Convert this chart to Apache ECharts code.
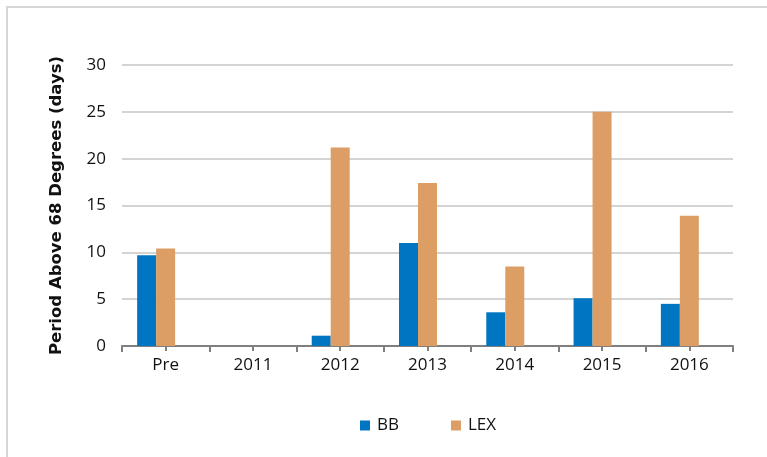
<!DOCTYPE html>
<html>
<head>
<meta charset="utf-8">
<script src="https://cdn.jsdelivr.net/npm/echarts@6/dist/echarts.min.js"></script>
<style>
html,body{margin:0;padding:0;background:#fff;}
#chart{width:767px;height:457px;}
</style>
</head>
<body>
<div id="chart"></div>
<script>
var categories = ['Pre', '2011', '2012', '2013', '2014', '2015', '2016'];
var bbValues = [9.7, null, 1.1, 11.0, 3.6, 5.1, 4.5];
var lexValues = [10.4, null, 21.2, 17.4, 8.5, 25.0, 13.9];
var emptyValues = [null, null, null, null, null, null, null];
var yTicks = [0, 5, 10, 15, 20, 25, 30];

var chart = echarts.init(document.getElementById('chart'), null, {renderer: 'canvas'});
var font = '"Open Sans", "DejaVu Sans", sans-serif';
chart.setOption({
  animation: false,
  backgroundColor: '#fff',
  graphic: [
    {type: 'line', shape: {x1: 6, y1: 7, x2: 767, y2: 7}, style: {stroke: '#d6d6d6', lineWidth: 2}},
    {type: 'line', shape: {x1: 7, y1: 7, x2: 7, y2: 457}, style: {stroke: '#d6d6d6', lineWidth: 2}}
  ],
  grid: {left: 122, right: 34, top: 65, bottom: 111},
  legend: {
    data: ['BB', 'LEX'],
    top: 412,
    left: 355,
    itemWidth: 10,
    itemHeight: 10,
    itemGap: 52,
    icon: 'rect',
    textStyle: {fontFamily: font, fontSize: 17, color: '#111', padding: [0, 0, 0, 2]}
  },
  xAxis: [
    {
      type: 'category',
      data: categories,
      axisLine: {lineStyle: {color: '#7f7f7f', width: 2}},
      axisTick: {show: true, length: 6, lineStyle: {color: '#7f7f7f', width: 2}},
      axisLabel: {fontFamily: font, fontSize: 17, color: '#111', margin: 11}
    },
    {
      type: 'category',
      data: categories,
      position: 'bottom',
      axisLine: {show: false},
      axisTick: {show: true, alignWithLabel: true, length: 5, lineStyle: {color: '#7f7f7f', width: 2}},
      axisLabel: {show: false},
      boundaryGap: true
    }
  ],
  yAxis: {
    type: 'value',
    min: 0,
    max: 30,
    interval: 5,
    name: 'Period Above 68 Degrees (days)',
    nameLocation: 'middle',
    nameGap: 57,
    nameRotate: 90,
    nameTextStyle: {fontFamily: '"DejaVu Sans", sans-serif', fontSize: 16.5, fontWeight: 'bold', color: '#111'},
    axisLine: {show: false},
    axisTick: {show: false},
    axisLabel: {fontFamily: font, fontSize: 17, color: '#111', margin: 16,
      formatter: function (v) { return yTicks.indexOf(v) >= 0 ? String(v) : ''; }},
    splitLine: {lineStyle: {color: '#d4d4d4', width: 2}}
  },
  series: [
    {name: 'BB', type: 'bar', data: bbValues, barWidth: 19, barGap: '0%',
      itemStyle: {color: '#0075c2'}},
    {name: 'LEX', type: 'bar', data: lexValues, barWidth: 19, barGap: '0%',
      itemStyle: {color: '#dc9e65'}},
    {name: 'empty', type: 'bar', data: emptyValues, barWidth: 19, barGap: '0%'}
  ]
});
</script>
</body>
</html>
